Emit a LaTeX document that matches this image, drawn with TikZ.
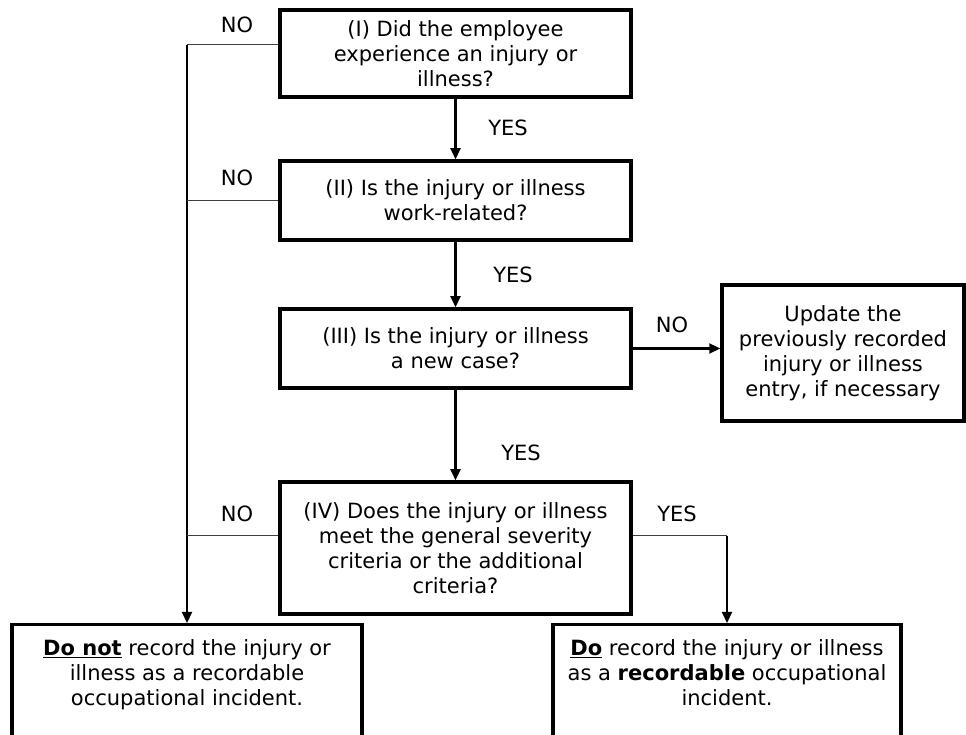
\documentclass[tikz,border=0pt]{standalone}
\usepackage{fontspec}
\setmainfont{DejaVu Sans}
\usetikzlibrary{arrows.meta}
\tikzstyle{question} = [
    rectangle,
    minimum width=351pt,
    minimum height=79pt,
    inner sep=0pt,
    align=center,
    line width=3.5pt,
    draw=black
]
\tikzstyle{result} = [
    rectangle,
    anchor=north,
    minimum width=350pt,
    inner xsep=0pt,
    inner ysep=15pt,
    text depth=100pt,
    align=center,
    line width=3.5pt,
    draw=black
]
\tikzstyle{answer} = [inner sep=0pt]
\tikzstyle{arrow} = [line width=2.2pt,-{Triangle[length=11pt,width=10pt]}]
\tikzstyle{branch} = [line width=1pt,draw=black!75]

\begin{document}
\begin{tikzpicture}[x=1pt, y=1pt, font=\fontsize{21}{25}\selectfont]
\useasboundingbox (0,0) rectangle (966,735);
\clip (0,0) rectangle (966,735);

\node (q1) [question, minimum height=87pt] at (455.5,681.5)
{(I) Did the employee\\experience an injury or\\illness?};

\node (q2) [question] at (455.5,534.5)
{(II) Is the injury or illness\\work-related?};

\node (q3) [question] at (455.5,386.5)
{(III) Is the injury or illness\\a new case?};

\node (q4) [question, minimum height=132pt] at (455.5,187)
{(IV) Does the injury or illness\\meet the general severity\\criteria or the additional\\criteria?};

\node (upd) [question, minimum width=242pt, minimum height=136pt] at (843,382)
{Update the\\previously recorded\\injury or illness\\entry, if necessary};

\node (norec) [result] at (187,112)
{\underline{\textbf{Do not}} record the injury or\\illness as a recordable\\occupational incident.};

\node (rec) [result, minimum width=348pt] at (727,112)
{\underline{\textbf{Do}} record the injury or illness\\as a \textbf{recordable} occupational\\incident.};

\node (no1) [answer] at (237,710) {NO};
\node (no2) [answer] at (237,557) {NO};
\node (no3) [answer] at (672,410) {NO};
\node (no4) [answer] at (237,221) {NO};
\node (yes1) [answer] at (508,607) {YES};
\node (yes2) [answer] at (513,460) {YES};
\node (yes3) [answer] at (521,282) {YES};
\node (yes4) [answer] at (677,221) {YES};

\coordinate (bend1) at ([yshift=8.5pt]q1.west -| norec.north);
\coordinate (bend4) at ([yshift=12pt]q4.east -| rec.north);

\draw [arrow] (q1) -- (q2);
\draw [arrow] (q2) -- (q3);
\draw [arrow] (q3) -- (q4);
\draw [arrow] (q3.east) -- (q3.east -| upd.west);
\draw [branch] ([yshift=8.5pt]q1.west) -- (bend1);
\draw [arrow] (bend1) -- (norec.north);
\draw [branch] (q2.west) -- (q2.west -| norec.north);
\draw [branch] ([yshift=12pt]q4.west) -- ([yshift=12pt]q4.west -| norec.north);
\draw [branch] ([yshift=12pt]q4.east) -- (bend4);
\draw [arrow] (bend4) -- (rec.north);

\end{tikzpicture}
\end{document}
